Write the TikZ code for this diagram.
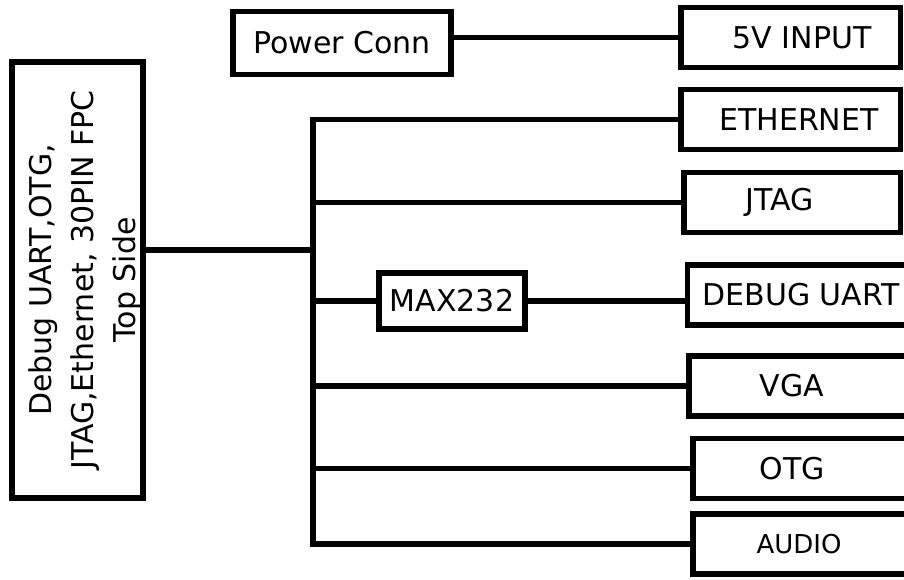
\documentclass[tikz,border=0pt]{standalone}
\usepackage{fontspec}
\setmainfont{DejaVu Sans}
\usepackage{tikz}
\usetikzlibrary{positioning}
\definecolor{ink}{HTML}{000000}

\begin{document}
\begin{tikzpicture}[x=1pt,y=-1pt,
  box/.style={draw=ink, line width=5.5pt, inner sep=0pt, font=\fontsize{30}{42}\selectfont},
  wire/.style={draw=ink, line width=5.5pt, line cap=rect},
  rtxt/.style={inner sep=0pt, text=ink}]
\clip (0,0) rectangle (904,579);
% board connector on the left
\node[box, minimum width=131, minimum height=436,
  label={[rtxt, align=center, font=\fontsize{30}{42}\selectfont, xshift=8, rotate=90]center:%
    Debug UART,OTG,\\JTAG,Ethernet, 30PIN FPC\\Top Side}] (fpc) at (77.5,280) {};
\node[box, minimum width=218, minimum height=63] (pwr) at (342,43) {Power Conn};
\node[box, minimum width=146, minimum height=56] (max) at (452,301) {MAX232};
% right column: name/y/left/width/text x/font size/text
\foreach \n/\y/\l/\w/\tx/\fs/\t in {in5v/37.5/681/219.5/802/30/5V INPUT,
    eth/119.5/681/219.5/799/30/ETHERNET, jtag/202.5/684/216.5/780/30/JTAG,
    uart/295/687.5/260/801/30/DEBUG UART, vga/386/689/260/792/30/VGA,
    otg/468.5/693/260/792/30/OTG, audio/544/693/260/799/26/AUDIO}{
  \node[box, minimum width=\w, minimum height=60,
    label={[rtxt, font=\fontsize{\fs}{\fs}\selectfont, xshift=\tx-\l-\w/2]center:\t}]
    (\n) at ({\l+\w/2},\y) {};
}
% bus
\coordinate (bt) at (313,119.5);
\coordinate (bb) at (313,544);
\coordinate (tap) at (313,250);
\draw[wire] (bt) -- (bb);
\draw[wire] (tap -| fpc.east) -- (tap);
\foreach \n in {eth,jtag,vga,otg,audio}
  \draw[wire] (\n.west -| bt) -- (\n.west);
\draw[wire] (max.west -| bt) -- (max.west);
\draw[wire] (max.east) -- (max.east -| uart.west);
\draw[wire] (pwr.east |- in5v.west) -- (in5v.west);
\end{tikzpicture}
\end{document}
